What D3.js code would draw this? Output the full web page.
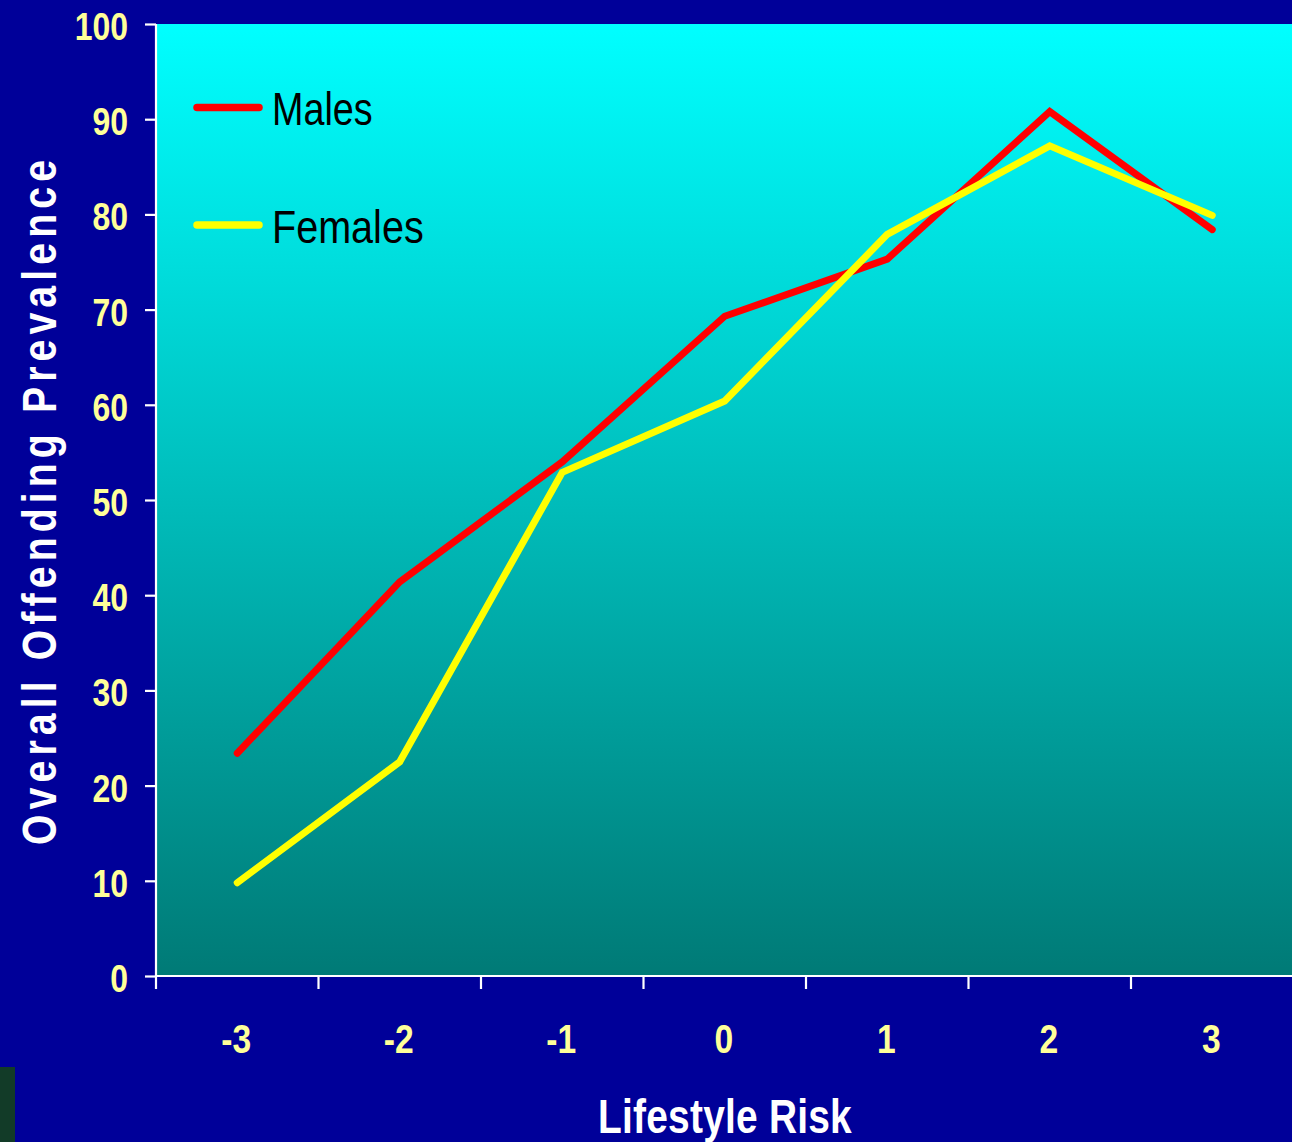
<!DOCTYPE html>
<html>
<head>
<meta charset="utf-8">
<script src="https://cdn.jsdelivr.net/npm/d3@7"></script>
<style>
  html, body { margin: 0; padding: 0; background: #000099; }
  svg { display: block; }
</style>
</head>
<body>
<svg id="chart" width="1292" height="1142"></svg>
<script>
// Lifestyle risk score categories
const categories = ["-3", "-2", "-1", "0", "1", "2", "3"];
// Overall offending prevalence (%) by lifestyle risk
const males   = [23.4, 41.4, 54.0, 69.3, 75.3, 90.8, 78.4];
const females = [9.8, 22.5, 52.9, 60.4, 77.9, 87.2, 79.9];
const yTicks = [0, 10, 20, 30, 40, 50, 60, 70, 80, 90, 100];
const seriesNames = ["Males", "Females"];

const svg = d3.select("#chart");
const W = 1292, H = 1142;
const plotLeft = 156, plotTop = 24, plotBottom = 976, plotRight = 1293.5;
const FONT = "'Liberation Sans', Arial, sans-serif";
const NARROW = 0.82;

svg.append("rect").attr("width", W).attr("height", H).attr("fill", "#000099");
svg.append("rect").attr("x", 0).attr("y", 1067).attr("width", 15).attr("height", H - 1067).attr("fill", "#123b28");

const x = d3.scaleBand().domain(categories).range([plotLeft, plotRight]);
const y = d3.scaleLinear().domain([0, 100]).range([plotBottom, plotTop]);

// plot area gradient
const defs = svg.append("defs");
const grad = defs.append("linearGradient").attr("id", "plotBg")
  .attr("x1", 0).attr("y1", 0).attr("x2", 0).attr("y2", 1);
grad.append("stop").attr("offset", "0%").attr("stop-color", "#00ffff");
grad.append("stop").attr("offset", "100%").attr("stop-color", "#007a76");

svg.append("rect")
  .attr("x", plotLeft).attr("y", plotTop)
  .attr("width", plotRight - plotLeft).attr("height", plotBottom - plotTop)
  .attr("fill", "url(#plotBg)");

// series lines
const line = d3.line()
  .x((d, i) => x(categories[i]) + x.bandwidth() / 2)
  .y(d => y(d));

const series = [
  { name: seriesNames[0], values: males, color: "#ff0000" },
  { name: seriesNames[1], values: females, color: "#ffff00" }
];

series.forEach(s => {
  svg.append("path")
    .datum(s.values)
    .attr("d", line)
    .attr("fill", "none")
    .attr("stroke", s.color)
    .attr("stroke-width", 7)
    .attr("stroke-linecap", "round")
    .attr("stroke-linejoin", "miter");
});

// y axis
const yAxis = svg.append("g")
  .attr("transform", `translate(${plotLeft},0)`)
  .call(d3.axisLeft(y).tickValues(yTicks).tickSize(11).tickPadding(0).tickFormat(""));
yAxis.select(".domain").attr("stroke", "#ffffff").attr("stroke-width", 2.2)
  .attr("d", `M0,${plotTop}V${plotBottom}`);
yAxis.selectAll(".tick line").attr("stroke", "#ffffff").attr("stroke-width", 2.2);

svg.append("g").selectAll("text")
  .data(yTicks)
  .join("text")
  .attr("transform", d => `translate(128,${y(d) + 16}) scale(${NARROW},1)`)
  .attr("text-anchor", "end")
  .attr("font-family", FONT)
  .attr("font-weight", "bold")
  .attr("font-size", 39)
  .attr("fill", "#ffff99")
  .text(d => d);

// x axis
const xAxis = svg.append("g")
  .attr("transform", `translate(0,${plotBottom})`)
  .call(d3.axisBottom(x).tickSize(0).tickFormat(""));
xAxis.select(".domain").attr("stroke", "#ffffff").attr("stroke-width", 2.2)
  .attr("d", `M${plotLeft},0H${plotRight}`);
xAxis.selectAll(".tick line").remove();

// tick marks on category boundaries
const bounds = categories.map(c => x(c)).concat([x(categories[categories.length - 1]) + x.bandwidth()]);
xAxis.selectAll(".bound")
  .data(bounds)
  .join("line")
  .attr("class", "bound")
  .attr("x1", d => d).attr("x2", d => d)
  .attr("y1", 0).attr("y2", 13)
  .attr("stroke", "#ffffff").attr("stroke-width", 2.2);

svg.append("g").selectAll("text")
  .data(categories)
  .join("text")
  .attr("transform", d => `translate(${x(d) + x.bandwidth() / 2 - 1},1053) scale(${NARROW},1)`)
  .attr("text-anchor", "middle")
  .attr("font-family", FONT)
  .attr("font-weight", "bold")
  .attr("font-size", 41)
  .attr("fill", "#ffff99")
  .text(d => d);

// axis titles
svg.append("text")
  .attr("transform", `translate(725,1133) scale(0.81,1)`)
  .attr("text-anchor", "middle")
  .attr("font-family", FONT)
  .attr("font-weight", "bold")
  .attr("font-size", 48)
  .attr("fill", "#ffffff")
  .attr("letter-spacing", 0.3)
  .text("Lifestyle Risk");

// vertical title: condensed glyphs with wide tracking
const yTitleScale = 0.8;
svg.append("text")
  .attr("transform", `translate(56,845) rotate(-90) scale(${yTitleScale},1)`)
  .attr("x", 0)
  .attr("text-anchor", "start")
  .attr("font-family", FONT)
  .attr("font-weight", "bold")
  .attr("font-size", 49)
  .attr("fill", "#ffffff")
  .attr("textLength", 685 / yTitleScale)
  .attr("lengthAdjust", "spacing")
  .text("Overall Offending Prevalence");

// legend
const legendY = [107.5, 225];
const legendBase = [125, 243];
const legendScale = [0.82, 0.86];
series.forEach((s, i) => {
  svg.append("line")
    .attr("x1", 197).attr("x2", 259)
    .attr("y1", legendY[i]).attr("y2", legendY[i])
    .attr("stroke", s.color).attr("stroke-width", 7.5)
    .attr("stroke-linecap", "round");
  svg.append("text")
    .attr("transform", `translate(272,${legendBase[i]}) scale(${legendScale[i]},1)`)
    .attr("font-family", FONT)
    .attr("font-size", 46)
    .attr("fill", "#000000")
    .text(s.name);
});
</script>
</body>
</html>
